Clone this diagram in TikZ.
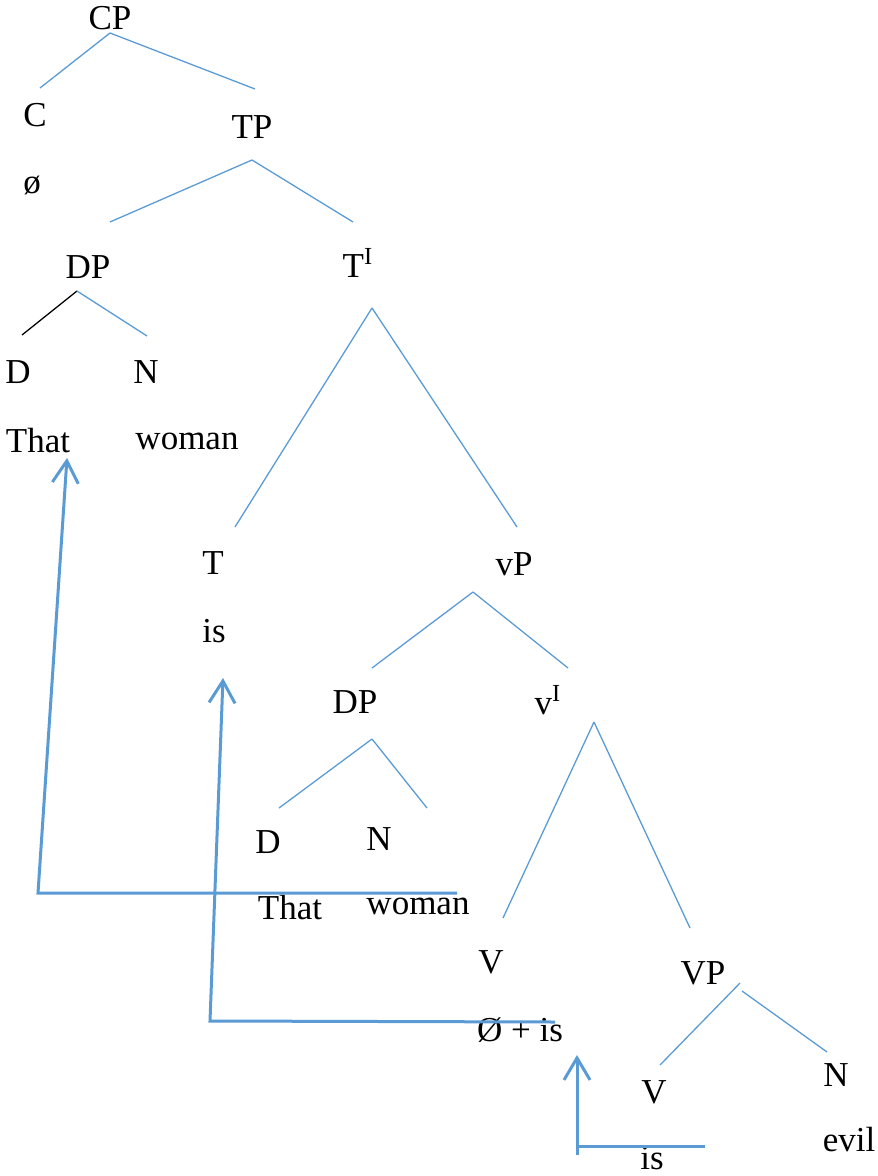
\documentclass[tikz,border=0pt]{standalone}
\usepackage{fontspec}
\setmainfont{Liberation Serif}
\usetikzlibrary{calc}
\usetikzlibrary{arrows.meta}

\definecolor{wordblue}{HTML}{5B9BD5}

\begin{document}
\begin{tikzpicture}[x=0.5pt,y=-0.5pt,
        lbl/.style={inner sep=0pt,text=black},
        branch/.style={wordblue,line width=0.65pt},
        move/.style={wordblue,line width=1.5pt},
        tip/.style={-{Straight Barb[length=11pt,width=13pt]}}
        ]
        \fontsize{17.5pt}{21pt}\selectfont
        \useasboundingbox (0,0) rectangle (877,1176);
        % labels
        \node (cp)    [lbl] at (110,18)   {CP};
        \node (c)     [lbl] at (35,115)   {C};
        \node (cnull) [lbl] at (32,185)   {ø};
        \node (tp)    [lbl] at (252,127)  {TP};
        \node (dp)    [lbl] at (88,267)   {DP};
        \node (tbar)  [lbl] at (358,263)  {T\textsuperscript{I}};
        \node (d)     [lbl] at (18,372)   {D};
        \node (n)     [lbl] at (146,372)  {N};
        \node (that)  [lbl] at (38,441)   {That};
        \node (woman) [lbl] at (187,441)  {woman};
        \node (t)     [lbl] at (213,563)  {T};
        \node (tis)   [lbl] at (214,631)  {is};
        \node (vp)    [lbl] at (514,564)  {vP};
        \node (dpb)   [lbl] at (355,702)  {DP};
        \node (vbar)  [lbl] at (548,700)  {v\textsuperscript{I}};
        \node (db)    [lbl] at (268,842)  {D};
        \node (nb)    [lbl] at (379,839)  {N};
        \node (thatb) [lbl] at (290,908)  {That};
        \node (womanb)[lbl] at (418,906)  {woman};
        \node (v)     [lbl] at (491,962)  {V};
        \node (vnull) [lbl] at (520,1030) {Ø + is};
        \node (vpb)   [lbl] at (703,973)  {VP};
        \node (vb)    [lbl] at (654,1092) {V};
        \node (nc)    [lbl] at (836,1075) {N};
        \node (evil)  [lbl] at (849,1140) {evil};
        \node (vis)   [lbl] at (652,1158) {is};
        % branches
        \draw[branch] ($(cp)+(0,15)$) -- ($(c)+(5,-27)$);
        \draw[branch] ($(cp)+(0,15)$) -- ($(tp)+(3,-38)$);
        \draw[branch] ($(tp)+(0,33)$) -- ($(dp)+(22,-45)$);
        \draw[branch] ($(tp)+(0,33)$) -- ($(tbar)+(-5,-41)$);
        \draw[black,line width=0.65pt] ($(dp)+(-11,24)$) -- ($(d)+(4,-37)$);
        \draw[branch] ($(dp)+(-11,24)$) -- ($(n)+(1,-36)$);
        \draw[branch] ($(tbar)+(14,45)$) -- ($(t)+(22,-36)$);
        \draw[branch] ($(tbar)+(14,45)$) -- ($(vp)+(3,-37)$);
        \draw[branch] ($(vp)+(-41,28)$) -- ($(dpb)+(17,-34)$);
        \draw[branch] ($(vp)+(-41,28)$) -- ($(vbar)+(20,-32)$);
        \draw[branch] ($(dpb)+(17,37)$) -- ($(db)+(11,-34)$);
        \draw[branch] ($(dpb)+(17,37)$) -- ($(nb)+(48,-31)$);
        \draw[branch] ($(vbar)+(46,22)$) -- ($(v)+(12,-44)$);
        \draw[branch] ($(vbar)+(46,22)$) -- ($(vpb)+(-13,-45)$);
        \draw[branch] ($(vpb)+(37,10)$) -- ($(vb)+(6,-27)$);
        \draw[branch] ($(vpb)+(39,18)$) -- ($(nc)+(-9,-23)$);
        % movement arrows
        \coordinate (bend1) at (38,893);
        \coordinate (bend2) at (210,1021);
        \coordinate (foot3) at (577,1155);
        \draw[move,tip] ($(womanb)+(39,-13)$) -- (bend1) -- ($(that)+(29,17)$);
        \draw[move,tip] ($(vnull)+(35,-8)$) -- (bend2) -- ($(tis)+(9,47)$);
        \draw[move,tip] (foot3) -- ($(vnull)+(57,25)$);
        \draw[move] ($(vis)+(53,-12)$) -- ($(foot3)+(0,-9)$);
\end{tikzpicture}
\end{document}
